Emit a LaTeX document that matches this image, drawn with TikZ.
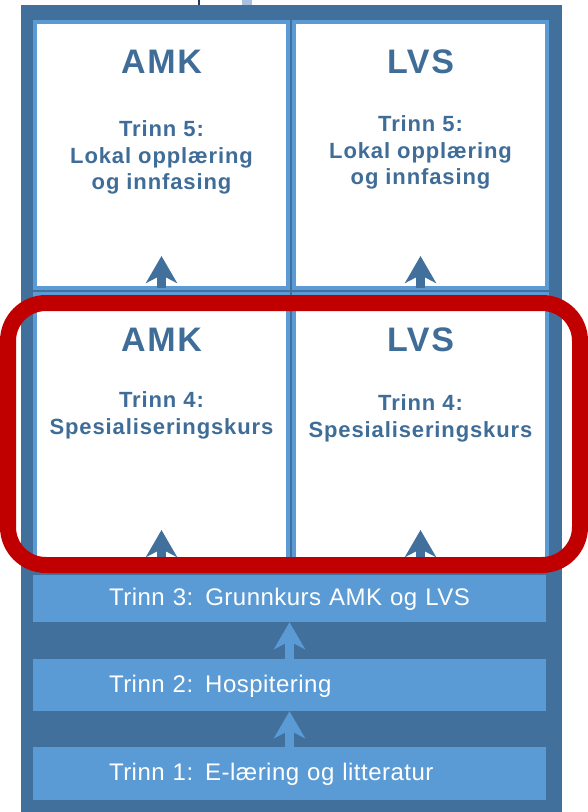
\documentclass[tikz,border=0pt]{standalone}
\usepackage{fontspec}
\setmainfont{Liberation Sans}
\usetikzlibrary{arrows.meta}
\definecolor{stepdark}{RGB}{65,112,156}
\definecolor{steplight}{RGB}{91,155,213}
\definecolor{steptext}{RGB}{63,109,152}
\definecolor{markred}{RGB}{192,0,0}

\begin{document}
\begin{tikzpicture}[x=1pt,y=-1pt,
        panel/.style={draw=steplight, line width=4pt, fill=white, inner sep=0pt, outer sep=0pt, minimum width=253pt},
        bar/.style={fill=steplight, inner xsep=76pt, inner ysep=0pt, text width=361pt, text=white,
            text height=17pt, text depth=3pt, font=\fontsize{24}{28}\selectfont\addfontfeature{LetterSpace=2}},
        title/.style={anchor=base, text=steptext, font=\bfseries\fontsize{34}{38}\selectfont\addfontfeature{LetterSpace=5}},
        label/.style={anchor=base, text=steptext, inner sep=0pt,
            font=\bfseries\fontsize{22}{27}\selectfont\addfontfeature{LetterSpace=4}},
        panelarrow/.style={draw=stepdark, line width=9pt, -{Stealth[length=27pt,width=31pt,inset=8pt]}},
        bararrow/.style={panelarrow, draw=steplight}]
        \useasboundingbox (0,0) rectangle (588,812);

        % Frame and scan leftovers at the top
        \fill[stepdark] (21,5) rectangle (562,812);
        \draw[color={rgb,255:red,31;green,56;blue,100}, line width=1.5pt] (199,0) -- (199,5);
        \fill[color={rgb,255:red,168;green,193;blue,224}] (242,0) rectangle (252,5);

        % Trinn 5
        \node[panel, minimum height=266pt] (amkA) at (161.5,155) {};
        \node[panel, minimum height=266pt] (lvsA) at (420.5,155) {};
        \node[title] (amkAtitle) at (161.5,73) {AMK};
        \node[title] (lvsAtitle) at (420.5,73) {LVS};
        \node[label] (amkAl1) at (161.5,136) {Trinn 5:};
        \node[label] (amkAl2) at (161.5,163) {Lokal opplæring};
        \node[label] (amkAl3) at (161.5,189) {og innfasing};
        \node[label] (lvsAl1) at (420.5,131) {Trinn 5:};
        \node[label] (lvsAl2) at (420.5,158) {Lokal opplæring};
        \node[label] (lvsAl3) at (420.5,184) {og innfasing};

        % Trinn 4
        \node[panel, minimum height=274pt] (amkB) at (161.5,431) {};
        \node[panel, minimum height=274pt] (lvsB) at (420.5,431) {};
        \node[title] (amkBtitle) at (161.5,351) {AMK};
        \node[title] (lvsBtitle) at (420.5,351) {LVS};
        \node[label] (amkBl1) at (161.5,407) {Trinn 4:};
        \node[label] (amkBl2) at (161.5,434) {Spesialiseringskurs};
        \node[label] (lvsBl1) at (420.5,410) {Trinn 4:};
        \node[label] (lvsBl2) at (420.5,437) {Spesialiseringskurs};

        \draw[panelarrow] (amkA.south) -- ++(0,-32);
        \draw[panelarrow] (lvsA.south) -- ++(0,-32);
        \draw[panelarrow] (amkB.south) -- ++(0,-38);
        \draw[panelarrow] (lvsB.south) -- ++(0,-38);

        % Trinn 1 to 3
        \node[bar, minimum height=47pt, align=center] (t3) at (289.5,598.5) {Trinn 3: Grunnkurs AMK og LVS};
        \node[bar, minimum height=52pt, align=left] (t2) at (289.5,685) {Trinn 2: Hospitering};
        \node[bar, minimum height=53pt, align=left] (t1) at (289.5,773.5) {Trinn 1: E-læring og litteratur};
        \draw[bararrow] (t1.north) -- (t2.south);
        \draw[bararrow] (t2.north) -- (t3.south);

        % Highlight
        \draw[markred, line width=16pt, rounded corners=38pt] (8,303) rectangle (580,565);
    \end{tikzpicture}
\end{document}
